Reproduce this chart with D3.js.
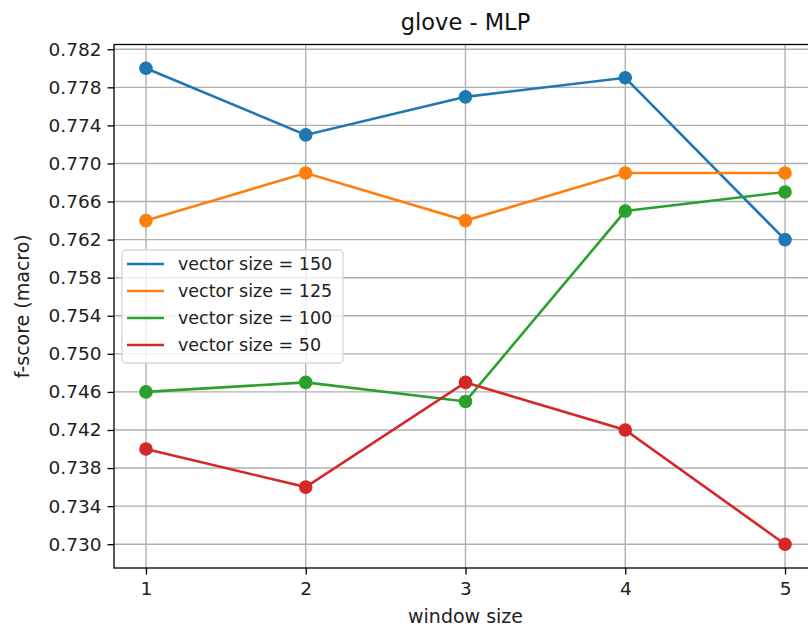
<!DOCTYPE html>
<html>
<head>
<meta charset="utf-8">
<script src="https://cdn.jsdelivr.net/npm/d3@7"></script>
<style>
  body { margin: 0; background: #fff; }
  svg { display: block; font-family: "DejaVu Sans", sans-serif; }
</style>
</head>
<body>
<div id="chart"></div>
<script>
(function() {

  var windowSizes = [1, 2, 3, 4, 5];
  var seriesNames = ['vector size = 150', 'vector size = 125', 'vector size = 100', 'vector size = 50'];
  var size150 = [0.780, 0.773, 0.777, 0.779, 0.762];
  var size125 = [0.764, 0.769, 0.764, 0.769, 0.769];
  var size100 = [0.746, 0.747, 0.745, 0.765, 0.767];
  var size50  = [0.740, 0.736, 0.747, 0.742, 0.730];
  var yTicks = [0.730, 0.734, 0.738, 0.742, 0.746, 0.750, 0.754, 0.758, 0.762, 0.766, 0.770, 0.774, 0.778, 0.782];
  var colors = ['#1f77b4', '#ff7f0e', '#2ca02c', '#d62728'];

  var series = [size150, size125, size100, size50].map(function(vals, i) {
    return { name: seriesNames[i], color: colors[i], values: vals };
  });

  var width = 808, height = 627;
  var left = 114, right = 817, top = 44.5, bottom = 568;

  var svg = d3.select('#chart')
              .append('svg')
              .attr('width', width)
              .attr('height', height);

  var x = d3.scaleLinear().domain([0.8, 5.2]).range([left, right]);
  var y = d3.scaleLinear().domain([0.7275, 0.7825]).range([bottom, top]);

  // grid
  var grid = svg.append('g');
  grid.selectAll('line.gx')
    .data(windowSizes)
    .enter()
    .append('line')
    .attr('x1', function(d) {return x(d)})
    .attr('x2', function(d) {return x(d)})
    .attr('y1', top)
    .attr('y2', bottom)
    .attr('stroke', '#b0b0b0')
    .attr('stroke-width', 1.4);
  grid.selectAll('line.gy')
    .data(yTicks)
    .enter()
    .append('line')
    .attr('x1', left)
    .attr('x2', right)
    .attr('y1', function(d) {return y(d)})
    .attr('y2', function(d) {return y(d)})
    .attr('stroke', '#b0b0b0')
    .attr('stroke-width', 1.4);

  // axes
  var xAxis = d3.axisBottom(x).tickValues(windowSizes).tickFormat(d3.format('d')).tickSize(6.5).tickPadding(7);
  var yAxis = d3.axisLeft(y).tickValues(yTicks).tickFormat(d3.format('.3f')).tickSize(6.5).tickPadding(6);

  var gx = svg.append('g').attr('transform', 'translate(0,' + bottom + ')').call(xAxis);
  var gy = svg.append('g').attr('transform', 'translate(' + left + ',0)').call(yAxis);
  [gx, gy].forEach(function(g) {
    g.select('.domain').remove();
    g.selectAll('line').attr('stroke', '#000').attr('stroke-width', 1.3);
    g.selectAll('text').attr('fill', '#222').style('font-size', '18.5px').style('font-family', '"DejaVu Sans", sans-serif');
  });

  // lines and points
  var line = d3.line()
    .x(function(d, i) {return x(windowSizes[i])})
    .y(function(d) {return y(d)});

  var plot = svg.append('g');
  series.forEach(function(s) {
    plot.append('path')
      .datum(s.values)
      .attr('fill', 'none')
      .attr('stroke', s.color)
      .attr('stroke-width', 2.6)
      .attr('d', line);
  });
  series.forEach(function(s) {
    plot.selectAll(null)
      .data(s.values)
      .enter()
      .append('circle')
      .attr('cx', function(d, i) {return x(windowSizes[i])})
      .attr('cy', function(d) {return y(d)})
      .attr('r', 6.8)
      .attr('fill', s.color);
  });

  // spines
  svg.append('rect')
    .attr('x', left)
    .attr('y', top)
    .attr('width', right - left)
    .attr('height', bottom - top)
    .attr('fill', 'none')
    .attr('stroke', '#000')
    .attr('stroke-width', 1.3);

  // legend
  var legend = svg.append('g');
  legend.append('rect')
    .attr('x', 122)
    .attr('y', 250)
    .attr('width', 221)
    .attr('height', 113)
    .attr('rx', 4)
    .attr('fill', '#fff')
    .attr('fill-opacity', 0.8)
    .attr('stroke', '#d6d6d6')
    .attr('stroke-width', 1.3);
  var items = legend.selectAll('g')
    .data(series)
    .enter()
    .append('g')
    .attr('transform', function(d, i) {return 'translate(0,' + (264 + i * 27) + ')'});
  items.append('line')
    .attr('x1', 127)
    .attr('x2', 164)
    .attr('stroke', function(d) {return d.color})
    .attr('stroke-width', 2.6);
  items.append('text')
    .attr('x', 178)
    .attr('dy', '0.35em')
    .attr('fill', '#222')
    .style('font-size', '17.5px')
    .text(function(d) {return d.name});

  // titles
  svg.append('text')
    .attr('x', (left + right) / 2)
    .attr('y', 30)
    .attr('text-anchor', 'middle')
    .attr('fill', '#111')
    .style('font-size', '22.5px')
    .text('glove - MLP');
  svg.append('text')
    .attr('x', (left + right) / 2)
    .attr('y', 623)
    .attr('text-anchor', 'middle')
    .attr('fill', '#222')
    .style('font-size', '19px')
    .text('window size');
  svg.append('text')
    .attr('transform', 'translate(29,' + ((top + bottom) / 2) + ') rotate(-90)')
    .attr('text-anchor', 'middle')
    .attr('fill', '#222')
    .style('font-size', '19px')
    .text('f-score (macro)');

})()
</script>
</body>
</html>
